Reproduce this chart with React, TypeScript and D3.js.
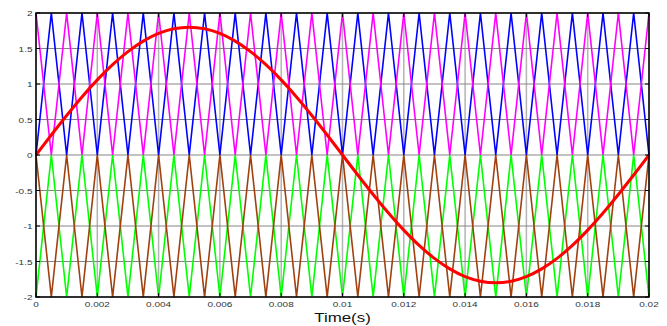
import React from "react";
import * as d3 from "d3";

// carrier vertex times (s)
const carrierTimes = [
  0, 0.0005, 0.001, 0.0015, 0.002, 0.0025, 0.003, 0.0035, 0.004, 0.0045,
  0.005, 0.0055, 0.006, 0.0065, 0.007, 0.0075, 0.008, 0.0085, 0.009, 0.0095,
  0.01, 0.0105, 0.011, 0.0115, 0.012, 0.0125, 0.013, 0.0135, 0.014, 0.0145,
  0.015, 0.0155, 0.016, 0.0165, 0.017, 0.0175, 0.018, 0.0185, 0.019, 0.0195, 0.02,
];
const blueValues = [0,2,0,2,0,2,0,2,0,2,0,2,0,2,0,2,0,2,0,2,0,2,0,2,0,2,0,2,0,2,0,2,0,2,0,2,0,2,0,2,0];
const magentaValues = [2,0,2,0,2,0,2,0,2,0,2,0,2,0,2,0,2,0,2,0,2,0,2,0,2,0,2,0,2,0,2,0,2,0,2,0,2,0,2,0,2];
const greenValues = [-2,0,-2,0,-2,0,-2,0,-2,0,-2,0,-2,0,-2,0,-2,0,-2,0,-2,0,-2,0,-2,0,-2,0,-2,0,-2,0,-2,0,-2,0,-2,0,-2,0,-2];
const brownValues = [0,-2,0,-2,0,-2,0,-2,0,-2,0,-2,0,-2,0,-2,0,-2,0,-2,0,-2,0,-2,0,-2,0,-2,0,-2,0,-2,0,-2,0,-2,0,-2,0,-2,0];
// reference (modulating) wave samples at the same times
const refValues = [
  0, 0.282, 0.556, 0.817, 1.058, 1.273, 1.456, 1.604, 1.712, 1.778,
  1.8, 1.778, 1.712, 1.604, 1.456, 1.273, 1.058, 0.817, 0.556, 0.282,
  0, -0.282, -0.556, -0.817, -1.058, -1.273, -1.456, -1.604, -1.712, -1.778,
  -1.8, -1.778, -1.712, -1.604, -1.456, -1.273, -1.058, -0.817, -0.556, -0.282, 0,
];
const xTicks = [0, 0.002, 0.004, 0.006, 0.008, 0.01, 0.012, 0.014, 0.016, 0.018, 0.02];
const xTickLabels = ["0", "0.002", "0.004", "0.006", "0.008", "0.01", "0.012", "0.014", "0.016", "0.018", "0.02"];
const yTicks = [2, 1.5, 1, 0.5, 0, -0.5, -1, -1.5, -2];
const yTickLabels = ["2", "1.5", "1", "0.5", "0", "-0.5", "-1", "-1.5", "-2"];

const W = 667, H = 326;
const L = 36, R = 649, T = 13, B = 297;
const font = "'Liberation Sans', Arial, sans-serif";

export default function App() {
  const x = d3.scaleLinear().domain([0, 0.02]).range([L, R]);
  const y = d3.scaleLinear().domain([-2, 2]).range([B, T]);
  const lin = d3.line<[number, number]>().x((d) => x(d[0])).y((d) => y(d[1]));
  const smooth = d3
    .line<[number, number]>()
    .x((d) => x(d[0]))
    .y((d) => y(d[1]))
    .curve(d3.curveCatmullRom.alpha(0.5));
  const mk = (vals: number[]) => carrierTimes.map((t, i) => [t, vals[i]] as [number, number]);
  const series = [
    { v: blueValues, c: "#0000ff" },
    { v: magentaValues, c: "#ff00ff" },
    { v: greenValues, c: "#00ff00" },
    { v: brownValues, c: "#a0400f" },
  ];
  return (
    <svg width={W} height={H} style={{ position: "absolute", left: 0, top: 0, background: "#fff" }}>
      <rect x={0} y={0} width={W} height={H} fill="#fff" />
      {xTicks.map((t, i) => (
        <line key={"gx" + i} x1={x(t)} x2={x(t)} y1={T} y2={B} stroke="#b4b4b4" strokeWidth={1.5} />
      ))}
      {yTicks.map((t, i) => (
        <line key={"gy" + i} x1={L} x2={R} y1={y(t)} y2={y(t)} stroke="#858585" strokeWidth={1} />
      ))}
      {series.map((s, i) => (
        <path key={"s" + i} d={lin(mk(s.v)) || ""} fill="none" stroke={s.c} strokeWidth={1.6} />
      ))}
      <path d={smooth(mk(refValues)) || ""} fill="none" stroke="#ff0000" strokeWidth={3} />
      <rect x={L} y={T} width={R - L} height={B - T} fill="none" stroke="#000" strokeWidth={1.5} />
      {xTicks.map((t, i) => (
        <g key={"tx" + i}>
          <line x1={x(t)} x2={x(t)} y1={B} y2={B - 4} stroke="#000" />
          <line x1={x(t)} x2={x(t)} y1={T} y2={T + 4} stroke="#000" />
          <text
            transform={`translate(${x(t)},307) scale(1.25,1)`}
            textAnchor="middle"
            fontSize={8}
            fontFamily={font}
            fill="#333"
          >
            {xTickLabels[i]}
          </text>
        </g>
      ))}
      {yTicks.map((t, i) => (
        <g key={"ty" + i}>
          <line x1={L} x2={L + 4} y1={y(t)} y2={y(t)} stroke="#000" />
          <line x1={R} x2={R - 4} y1={y(t)} y2={y(t)} stroke="#000" />
          <text
            transform={`translate(32.5,${y(t) + 3}) scale(1.25,1)`}
            textAnchor="end"
            fontSize={8}
            fontFamily={font}
            fill="#333"
          >
            {yTickLabels[i]}
          </text>
        </g>
      ))}
      <text
        transform={`translate(${(L + R) / 2},322) scale(1.25,1)`}
        textAnchor="middle"
        fontSize={13.5}
        fontFamily={font}
        fill="#111"
      >
        Time(s)
      </text>
    </svg>
  );
}
